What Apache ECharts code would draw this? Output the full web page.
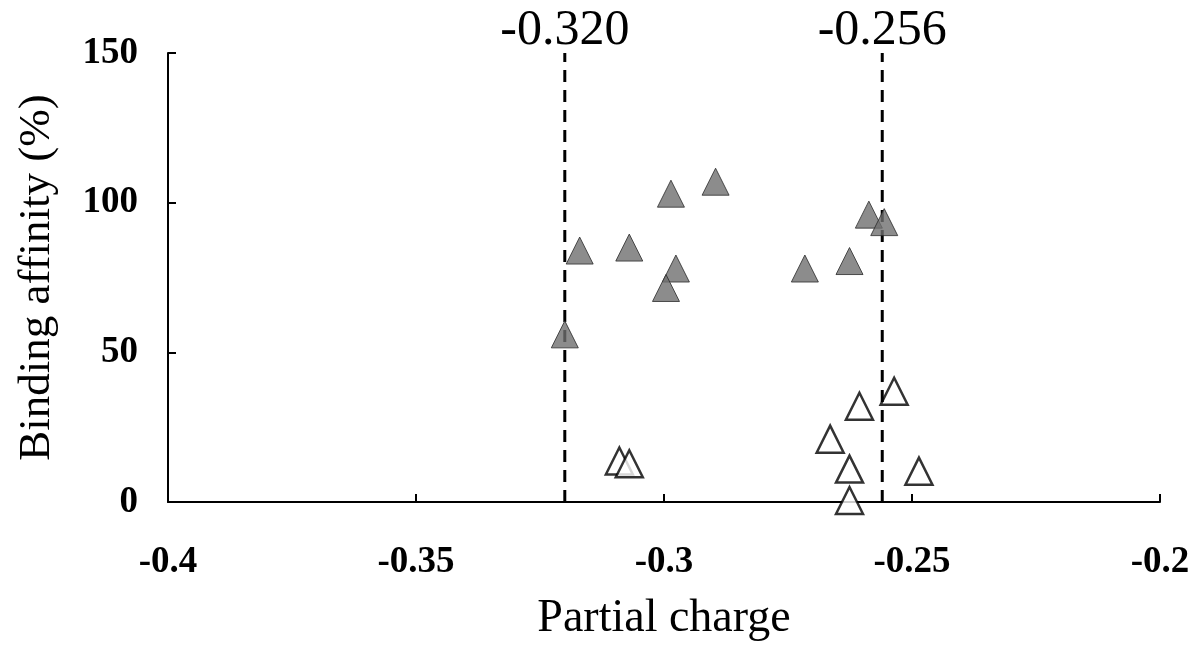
<!DOCTYPE html>
<html>
<head>
<meta charset="utf-8">
<script src="https://cdn.jsdelivr.net/npm/echarts@6/dist/echarts.min.js"></script>
<style>
  html, body { margin: 0; padding: 0; background: #fff; }
  #chart { width: 1198px; height: 647px; }
</style>
</head>
<body>
<div id="chart"></div>
<script>
// high affinity compounds (filled triangles)
var filledX = [-0.320, -0.317, -0.307, -0.2986, -0.2896, -0.2976, -0.2996, -0.2716, -0.2626, -0.2587, -0.2556];
var filledY = [56, 84, 85, 103, 107, 78, 71.5, 78, 80.5, 96, 93.5];
// low affinity compounds (open triangles)
var openX = [-0.309, -0.307, -0.2536, -0.2606, -0.2665, -0.2626, -0.2626, -0.2486];
var openY = [13.7, 12.8, 37, 32, 21, 11, 0.5, 10.3];
// threshold lines
var cutoffs = [-0.320, -0.256];
var cutoffLabels = ['-0.320', '-0.256'];
var xTicks = [-0.4, -0.35, -0.3, -0.25, -0.2];
var yTicks = [0, 50, 100, 150];

function pairs(xs, ys) {
  var out = [];
  for (var i = 0; i < xs.length; i++) out.push([xs[i], ys[i]]);
  return out;
}

var serif = '"Liberation Serif", "DejaVu Serif", serif';
var chart = echarts.init(document.getElementById('chart'));

// one dashed vertical line series per cutoff, label at its top end
var cutoffSeries = cutoffs.map(function (c, i) {
  return {
    name: 'cutoff' + i,
    type: 'line',
    z: 3,
    symbol: 'circle',
    symbolSize: 1,
    showSymbol: true,
    silent: true,
    itemStyle: { color: 'rgba(0,0,0,0)' },
    lineStyle: { color: '#000', width: 3, type: [12, 8] },
    data: [
      [c, yTicks[0]],
      {
        value: [c, yTicks[yTicks.length - 1]],
        label: {
          show: true,
          position: 'top',
          distance: -3,
          fontFamily: serif, fontSize: 50, color: '#000',
          formatter: cutoffLabels[i]
        }
      }
    ]
  };
});

chart.setOption({
  animation: false,
  grid: { left: 168, right: 38, top: 53, bottom: 142 },
  xAxis: {
    type: 'value',
    min: xTicks[0],
    max: xTicks[xTicks.length - 1],
    interval: 0.05,
    name: 'Partial charge',
    nameLocation: 'middle',
    nameGap: 94,
    nameTextStyle: { fontFamily: serif, fontSize: 46, color: '#000' },
    axisLine: { onZero: false, lineStyle: { color: '#000', width: 2 } },
    axisTick: { inside: true, length: 8, lineStyle: { color: '#000', width: 2 } },
    axisLabel: {
      margin: 42,
      fontFamily: serif, fontSize: 37, fontWeight: 'bold', color: '#000',
      formatter: function (v) { return String(Math.round(v * 100) / 100); }
    },
    splitLine: { show: false }
  },
  yAxis: {
    type: 'value',
    min: yTicks[0],
    max: yTicks[yTicks.length - 1],
    interval: 50,
    name: 'Binding affinity (%)',
    nameLocation: 'middle',
    nameGap: 108,
    nameTextStyle: { fontFamily: serif, fontSize: 45, color: '#000' },
    axisLine: { show: true, lineStyle: { color: '#000', width: 2 } },
    axisTick: { show: true, inside: true, length: 8, lineStyle: { color: '#000', width: 2 } },
    axisLabel: { margin: 30, fontFamily: serif, fontSize: 37, fontWeight: 'bold', color: '#000' },
    splitLine: { show: false }
  },
  series: [
    {
      name: 'low',
      type: 'scatter',
      z: 2,
      symbol: 'triangle',
      symbolSize: [27, 27],
      itemStyle: { color: '#fff', borderColor: '#000', borderWidth: 2.5 },
      data: pairs(openX, openY)
    }
  ].concat(cutoffSeries, [
    {
      name: 'high',
      type: 'scatter',
      z: 4,
      symbol: 'triangle',
      symbolSize: [27, 27],
      itemStyle: { color: '#6f6f6f', borderColor: '#2a2a2a', borderWidth: 1 },
      data: pairs(filledX, filledY)
    }
  ])
});
</script>
</body>
</html>
